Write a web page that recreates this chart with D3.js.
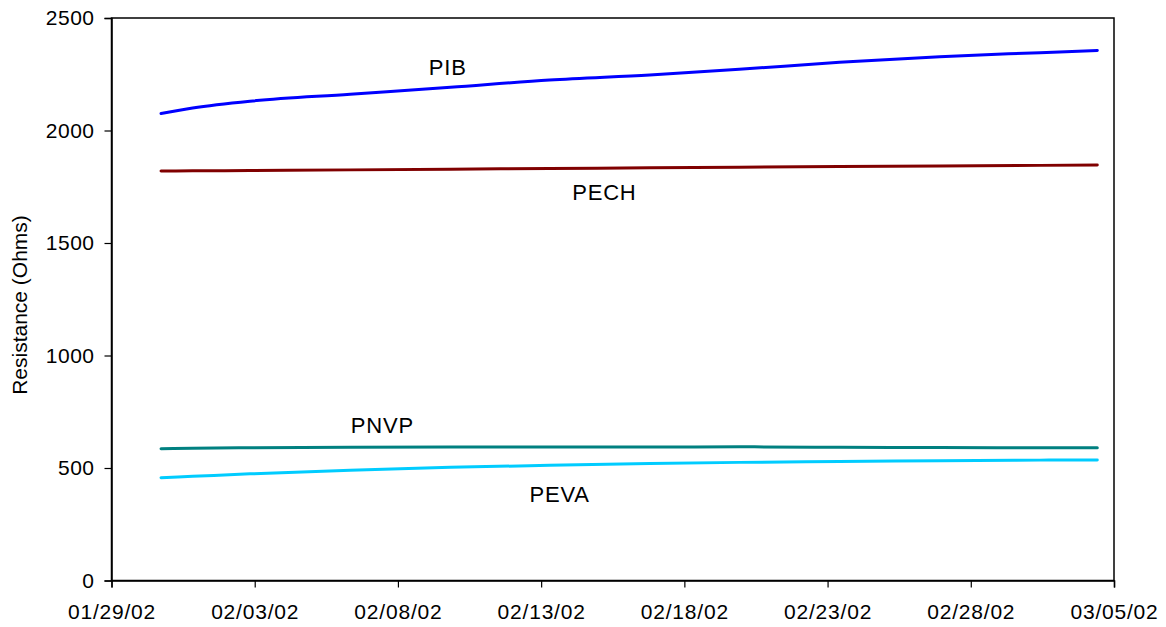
<!DOCTYPE html>
<html>
<head>
<meta charset="utf-8">
<script src="https://cdn.jsdelivr.net/npm/d3@7"></script>
<style>
  body { margin: 0; background: #fff; }
  svg { display: block; font-family: Arial, "Liberation Sans", sans-serif; }
</style>
</head>
<body>
<div id="chart"></div>
<script>
// Data
const dates = [
  "2002-01-30 17:30", "2002-01-31 20:00", "2002-02-02 20:00", "2002-02-06 08:00",
  "2002-02-09 20:00", "2002-02-13 07:00", "2002-02-16 19:00", "2002-02-19 22:00",
  "2002-02-23 10:00", "2002-02-26 22:00", "2002-03-02 10:00", "2002-03-04 10:00"
];
const pib  = [2076, 2100, 2130, 2161, 2192, 2224, 2247, 2272, 2303, 2328, 2346, 2356];
const pech = [1820, 1821, 1822, 1825, 1828, 1831, 1834, 1837, 1840, 1842, 1845, 1847];
const pnvp = [586, 588, 590, 592, 593, 593, 593, 594, 592, 591, 590, 590];
const peva = [457, 463, 474, 490, 503, 512, 520, 525, 529, 532, 535, 536];

const seriesNames = ["PIB", "PECH", "PNVP", "PEVA"];
const seriesColors = ["#0000ff", "#800000", "#008080", "#00ccff"];
// label anchor: date + value where the name sits
const labelDates = ["2002-02-09 17:45", "2002-02-15 05:00", "2002-02-07 11:00", "2002-02-13 15:30"];
const labelValues = [2245, 1690, 655, 350];

const xTickLabels = ["01/29/02", "02/03/02", "02/08/02", "02/13/02", "02/18/02", "02/23/02", "02/28/02", "03/05/02"];
const yTicks = [0, 500, 1000, 1500, 2000, 2500];

const W = 1166, H = 627;
const margin = { top: 18, right: 52, bottom: 46.5, left: 111.5 };
const iw = W - margin.left - margin.right;
const ih = H - margin.top - margin.bottom;

const parse = d3.timeParse("%Y-%m-%d %H:%M");
const parseTick = d3.timeParse("%m/%d/%y");
const fmtTick = d3.timeFormat("%m/%d/%y");
const tickDates = xTickLabels.map(parseTick);

const x = d3.scaleTime()
  .domain([tickDates[0], tickDates[tickDates.length - 1]])
  .range([0, iw]);
const y = d3.scaleLinear().domain([0, 2500]).range([ih, 0]);

const svg = d3.select("#chart").append("svg")
  .attr("width", W).attr("height", H);

const g = svg.append("g")
  .attr("transform", `translate(${margin.left},${margin.top})`);

// frame
g.append("rect")
  .attr("x", 0).attr("y", 0).attr("width", iw).attr("height", ih)
  .attr("fill", "none").attr("stroke", "#000").attr("stroke-width", 1.5);

// y axis
const yAxis = g.append("g")
  .call(d3.axisLeft(y).tickValues(yTicks).tickSize(7).tickPadding(10).tickFormat(d3.format("d")));
yAxis.select(".domain").attr("stroke-width", 1.5);
yAxis.selectAll(".tick line").attr("stroke-width", 1.2);
yAxis.selectAll("text")
  .attr("font-size", 21).attr("fill", "#000").attr("letter-spacing", "0.5px")
  .style("font-family", "Arial, 'Liberation Sans', sans-serif");

// x axis
const xAxis = g.append("g")
  .attr("transform", `translate(0,${ih})`)
  .call(d3.axisBottom(x).tickValues(tickDates).tickSize(7).tickPadding(17).tickFormat(fmtTick));
xAxis.select(".domain").attr("stroke-width", 1.5);
xAxis.selectAll(".tick line").attr("stroke-width", 1.2);
xAxis.selectAll("text")
  .attr("font-size", 21).attr("fill", "#000").attr("letter-spacing", "0.8px")
  .style("font-family", "Arial, 'Liberation Sans', sans-serif");

// y title
svg.append("text")
  .attr("transform", "translate(27,305) rotate(-90)")
  .attr("text-anchor", "middle")
  .attr("font-size", 21)
  .text("Resistance (Ohms)");

// lines
const series = [pib, pech, pnvp, peva];
const parsedDates = dates.map(parse);
const line = d3.line()
  .x(d => x(d[0]))
  .y(d => y(d[1]))
  .curve(d3.curveMonotoneX);

series.forEach((vals, i) => {
  g.append("path")
    .datum(vals.map((v, j) => [parsedDates[j], v]))
    .attr("fill", "none")
    .attr("stroke", seriesColors[i])
    .attr("stroke-width", 3)
    .attr("stroke-linecap", "round")
    .attr("d", line);
});

// series labels
seriesNames.forEach((name, i) => {
  g.append("text")
    .attr("x", x(parse(labelDates[i])))
    .attr("y", y(labelValues[i]))
    .attr("text-anchor", "middle")
    .attr("font-size", 22)
    .attr("letter-spacing", "0.8px")
    .text(name);
});
</script>
</body>
</html>
